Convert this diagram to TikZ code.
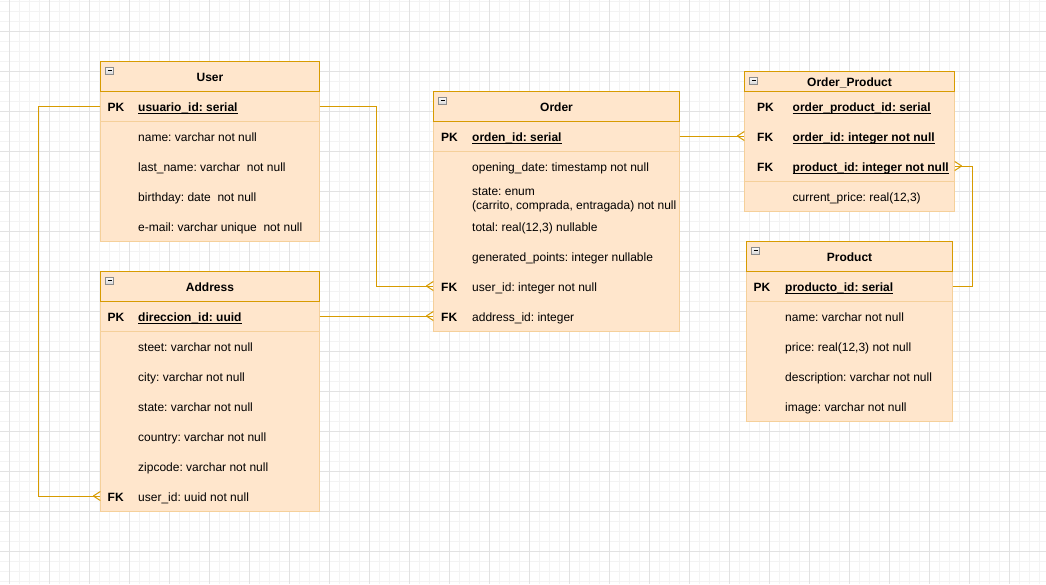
\documentclass[tikz,border=0pt]{standalone}
\usepackage{fontspec}
\setmainfont{Liberation Sans}
\definecolor{erfill}{HTML}{FFE6CC}
\definecolor{erline}{HTML}{D79B00}
\definecolor{erpale}{HTML}{F5D09A}
\definecolor{gridminor}{HTML}{F3F3F3}
\definecolor{gridmajor}{HTML}{E2E2E2}

% column offsets of the key and field texts inside a table
\newcommand\erkx{7}
\newcommand\erfx{38}

% table frame: name, left, top, width, height, header height, title
\newcommand\ertable[7]{%
  \node[tblbody, minimum width=#4, minimum height=#5] (#1) at ({#2+#4/2},{#3+#5/2}) {};
  \node[tblhead, minimum width=#4, minimum height=#6] (#1-h) at ({#2+#4/2},{#3+#6/2}) {};
  \node[tbltitle] at ([yshift=-5pt]#1-h.center) {#7};
  \node[collapsebox] (#1-c) at ({#2+9.3},{#3+9.8}) {};
  \draw[line width=1.2pt] ([xshift=-2.2pt]#1-c.center) -- ([xshift=2.2pt]#1-c.center);
}
% one field row: name, left, width, centre y, key, text
\newcommand\erfield[6]{%
  \node[rowbox, minimum width=#3] (#1) at ({#2+#3/2},#4) {};
  \node[keylabel] at ({#2+\erkx},{#4+5}) {#5};
  \node[fieldlabel] (#1-t) at ({#2+\erfx},{#4+5}) {#6};
}
% underlined (key) field row
\newcommand\erkeyfield[6]{%
  \erfield{#1}{#2}{#3}{#4}{#5}{\bfseries #6}%
  \draw[uline] ([yshift=-2.6pt]#1-t.base west) -- ([yshift=-2.6pt]#1-t.base east);
}
% crow's foot (many) at the west or east side of a row
\newcommand\manywest[1]{%
  \draw[rel] ([xshift=-7pt]#1.west) -- ([yshift=4.5pt]#1.west)
             ([xshift=-7pt]#1.west) -- ([yshift=-4.5pt]#1.west);}
\newcommand\manyeast[1]{%
  \draw[rel] ([xshift=7pt]#1.east) -- ([yshift=4.5pt]#1.east)
             ([xshift=7pt]#1.east) -- ([yshift=-4.5pt]#1.east);}

\tikzset{
  tblbody/.style={draw=erpale, fill=erfill, line width=1pt, inner sep=0},
  tblhead/.style={draw=erline, fill=erfill, line width=1pt, inner sep=0},
  tbltitle/.style={anchor=base, font=\fontsize{12}{14}\selectfont\bfseries, inner sep=0},
  collapsebox/.style={draw=gray!90, top color=white, bottom color=gray!35,
    line width=0.8pt, minimum width=8pt, minimum height=7.5pt, inner sep=0},
  rowbox/.style={inner sep=0, minimum height=30pt},
  keylabel/.style={anchor=base west, inner sep=0, font=\fontsize{12}{14}\selectfont\bfseries},
  fieldlabel/.style={anchor=base west, inner sep=0, align=left, font=\fontsize{12}{14}\selectfont},
  uline/.style={line width=1pt},
  rowsep/.style={draw=erpale, line width=1pt},
  rel/.style={draw=erline, line width=1pt},
}

\begin{document}
\frenchspacing
\begin{tikzpicture}[x=1pt,y=-1pt]
\useasboundingbox (0,0) rectangle (1046,584);
\fill[white] (0,0) rectangle (1046,584);

% background grid
\foreach \i in {0,...,103} \draw[gridminor, line width=1pt] ({9+10*\i},0) -- ({9+10*\i},584);
\foreach \j in {0,...,58} \draw[gridminor, line width=1pt] (0,{1.7+10*\j}) -- (1046,{1.7+10*\j});
\foreach \i in {0,...,25} \draw[gridmajor, line width=1pt] ({9+40*\i},0) -- ({9+40*\i},584);
\foreach \j in {0,...,13} \draw[gridmajor, line width=1pt] (0,{31.7+40*\j}) -- (1046,{31.7+40*\j});

% ---- User ----
\renewcommand\erkx{7}\renewcommand\erfx{37.5}
\ertable{user}{100.5}{61}{219}{180}{30}{User}
\erkeyfield{user-pk}{100.5}{219}{106}{PK}{usuario\_id: serial}
\erfield{user-name}{100.5}{219}{136}{}{name: varchar not null}
\erfield{user-last}{100.5}{219}{166}{}{last\_name: varchar\ \ not null}
\erfield{user-birth}{100.5}{219}{196}{}{birthday: date\ \ not null}
\erfield{user-mail}{100.5}{219}{226}{}{e-mail: varchar unique\ \ not null}
\draw[rowsep] (user-pk.south west) -- (user-pk.south east);

% ---- Address ----
\ertable{addr}{100.5}{271}{219}{240}{30}{Address}
\erkeyfield{addr-pk}{100.5}{219}{316}{PK}{direccion\_id: uuid}
\erfield{addr-street}{100.5}{219}{346}{}{steet: varchar not null}
\erfield{addr-city}{100.5}{219}{376}{}{city: varchar not null}
\erfield{addr-state}{100.5}{219}{406}{}{state: varchar not null}
\erfield{addr-country}{100.5}{219}{436}{}{country: varchar not null}
\erfield{addr-zip}{100.5}{219}{466}{}{zipcode: varchar not null}
\erfield{addr-uid}{100.5}{219}{496}{FK}{user\_id: uuid not null}
\draw[rowsep] (addr-pk.south west) -- (addr-pk.south east);

% ---- Order ----
\renewcommand\erkx{7.5}\renewcommand\erfx{38.5}
\ertable{order}{433.5}{91}{246}{240}{30}{Order}
\erkeyfield{order-pk}{433.5}{246}{136}{PK}{orden\_id: serial}
\erfield{order-open}{433.5}{246}{166}{}{opening\_date: timestamp not null}
\node[rowbox, minimum width=246] (order-state) at ({433.5+123},196) {};
\node[fieldlabel] at ({433.5+\erfx},209) {state: enum\\(carrito, comprada, entragada) not null};
\erfield{order-total}{433.5}{246}{226}{}{total: real(12,3) nullable}
\erfield{order-points}{433.5}{246}{256}{}{generated\_points: integer nullable}
\erfield{order-uid}{433.5}{246}{286}{FK}{user\_id: integer not null}
\erfield{order-aid}{433.5}{246}{316}{FK}{address\_id: integer}
\draw[rowsep] (order-pk.south west) -- (order-pk.south east);

% ---- Order_Product ----
\renewcommand\erkx{12.5}\renewcommand\erfx{48}
\ertable{op}{744.5}{71}{210}{140}{20}{Order\_Product}
\erkeyfield{op-pk}{744.5}{210}{106}{PK}{order\_product\_id: serial}
\erkeyfield{op-oid}{744.5}{210}{136}{FK}{order\_id: integer not null}
\erkeyfield{op-pid}{744.5}{210}{166}{FK}{product\_id: integer not null}
\erfield{op-price}{744.5}{210}{196}{}{current\_price: real(12,3)}
\draw[rowsep] (op-pid.south west) -- (op-pid.south east);

% ---- Product ----
\renewcommand\erkx{7}\renewcommand\erfx{38.5}
\ertable{prod}{746.5}{241}{206}{180}{30}{Product}
\erkeyfield{prod-pk}{746.5}{206}{286}{PK}{producto\_id: serial}
\erfield{prod-name}{746.5}{206}{316}{}{name: varchar not null}
\erfield{prod-price}{746.5}{206}{346}{}{price: real(12,3) not null}
\erfield{prod-desc}{746.5}{206}{376}{}{description: varchar not null}
\erfield{prod-img}{746.5}{206}{406}{}{image: varchar not null}
\draw[rowsep] (prod-pk.south west) -- (prod-pk.south east);

% ---- relationships ----
\draw[rel] (user-pk.east) -- ++(57,0) |- (order-uid.west);
\manywest{order-uid}
\draw[rel] (addr-pk.east) -- (order-aid.west);
\manywest{order-aid}
\draw[rel] (user-pk.west) -- ++(-61.5,0) |- (addr-uid.west);
\manywest{addr-uid}
\draw[rel] (order-pk.east) -- (op-oid.west);
\manywest{op-oid}
\draw[rel] (prod-pk.east) -- ++(19.5,0) |- (op-pid.east);
\manyeast{op-pid}
\end{tikzpicture}
\end{document}
